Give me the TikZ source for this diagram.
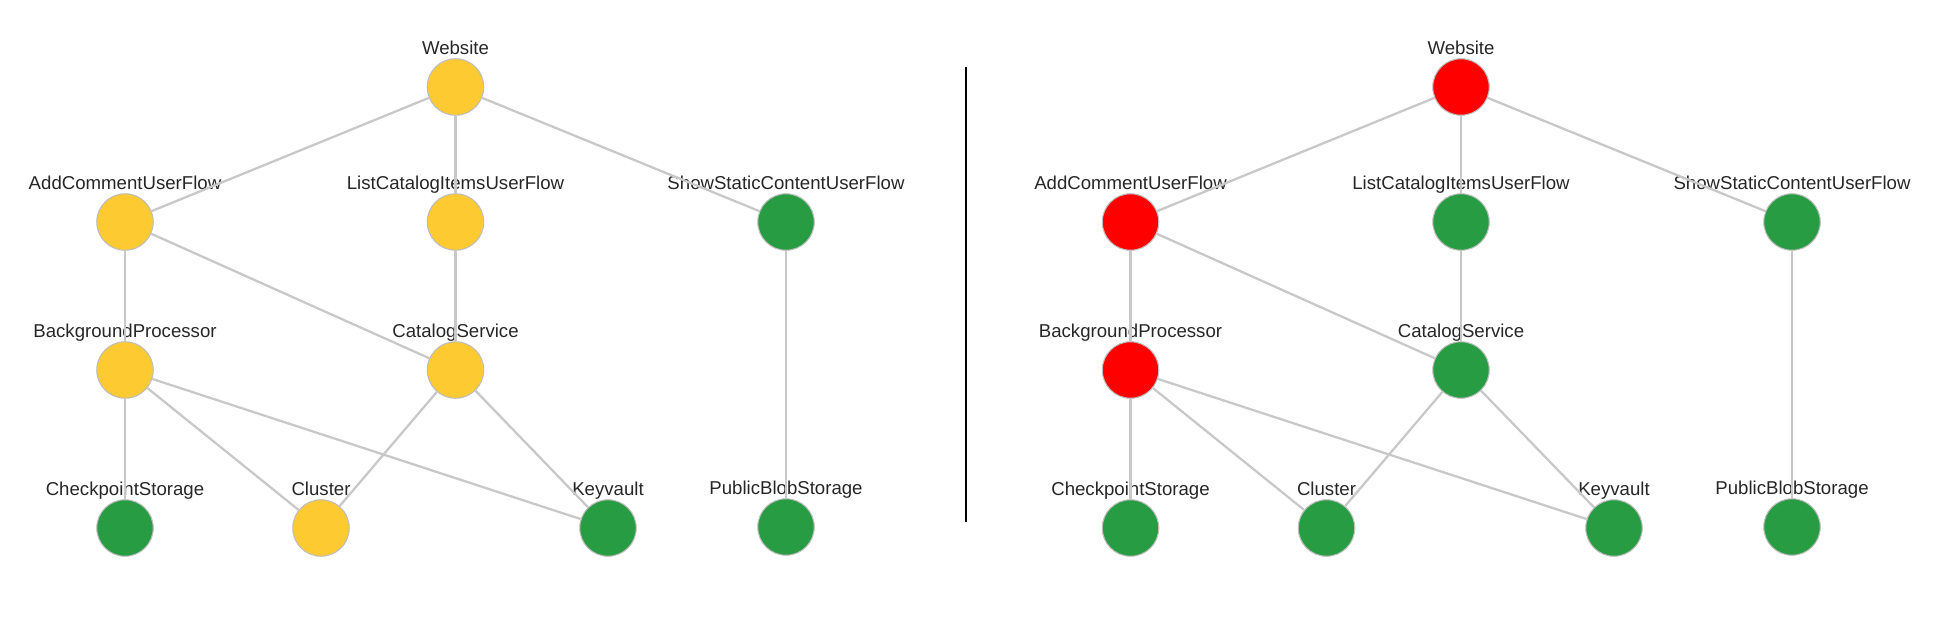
\documentclass[tikz,border=0pt]{standalone}
\usepackage{fontspec}
\setmainfont{Liberation Sans}
\definecolor{okgreen}{HTML}{289C43}
\definecolor{warnyellow}{HTML}{FDCA31}
\definecolor{failred}{HTML}{FF0000}
\definecolor{edgegray}{HTML}{C8C8C8}
\definecolor{ringgray}{HTML}{BDBDBD}
\tikzset{
    svc/.style={circle, draw=ringgray, line width=0.6pt, minimum size=1.13cm, inner sep=0pt},
    svclbl/.style={anchor=base, inner sep=0pt, font=\fontsize{10.6}{12}\selectfont, text=black!85},
    edge/.style={draw=edgegray, line width=1.3pt},
}
% one service: name, x, y, colour, text
\newcommand{\svcnode}[5]{%
    \node[svc, fill=#4] (#1) at (#2,#3) {};
    \node[svclbl] (#1-t) at ([yshift=0.66cm]#1.center) {#5};
}
\begin{document}
\begin{tikzpicture}[
            x=0.02cm, y=-0.02cm,
        ]
            \useasboundingbox (0,0) rectangle (1942,639);
            % left graph
            \svcnode{web}{455.5}{87}{warnyellow}{Website}
            \svcnode{addc}{125}{222}{warnyellow}{AddCommentUserFlow}
            \svcnode{list}{455.5}{222}{warnyellow}{ListCatalogItemsUserFlow}
            \svcnode{show}{786}{222}{okgreen}{ShowStaticContentUserFlow}
            \svcnode{bgp}{125}{370}{warnyellow}{BackgroundProcessor}
            \svcnode{cat}{455.5}{370}{warnyellow}{CatalogService}
            \svcnode{chk}{125}{528}{okgreen}{CheckpointStorage}
            \svcnode{clu}{321}{528}{warnyellow}{Cluster}
            \svcnode{key}{608}{528}{okgreen}{Keyvault}
            \svcnode{blob}{786}{527}{okgreen}{PublicBlobStorage}
            \path[edge] (web) -- (addc);
            \path[edge] (web) -- (list);
            \path[edge] (web) -- (show);
            \path[edge] (addc) -- (bgp);
            \path[edge] (addc) -- (cat);
            \path[edge] (list) -- (cat);
            \path[edge] (show) -- (blob);
            \path[edge] (bgp) -- (chk);
            \path[edge] (bgp) -- (clu);
            \path[edge] (bgp) -- (key);
            \path[edge] (cat) -- (clu);
            \path[edge] (cat) -- (key);
            % separator
            \draw[black, line width=0.6pt] (966,67) -- (966,522);
            % right graph
            \svcnode{web2}{1461}{87}{failred}{Website}
            \svcnode{addc2}{1130.5}{222}{failred}{AddCommentUserFlow}
            \svcnode{list2}{1461}{222}{okgreen}{ListCatalogItemsUserFlow}
            \svcnode{show2}{1792}{222}{okgreen}{ShowStaticContentUserFlow}
            \svcnode{bgp2}{1130.5}{370}{failred}{BackgroundProcessor}
            \svcnode{cat2}{1461}{370}{okgreen}{CatalogService}
            \svcnode{chk2}{1130.5}{528}{okgreen}{CheckpointStorage}
            \svcnode{clu2}{1326.5}{528}{okgreen}{Cluster}
            \svcnode{key2}{1614}{528}{okgreen}{Keyvault}
            \svcnode{blob2}{1792}{527}{okgreen}{PublicBlobStorage}
            \path[edge] (web2) -- (addc2);
            \path[edge] (web2) -- (list2);
            \path[edge] (web2) -- (show2);
            \path[edge] (addc2) -- (bgp2);
            \path[edge] (addc2) -- (cat2);
            \path[edge] (list2) -- (cat2);
            \path[edge] (show2) -- (blob2);
            \path[edge] (bgp2) -- (chk2);
            \path[edge] (bgp2) -- (clu2);
            \path[edge] (bgp2) -- (key2);
            \path[edge] (cat2) -- (clu2);
            \path[edge] (cat2) -- (key2);
        \end{tikzpicture}
\end{document}
